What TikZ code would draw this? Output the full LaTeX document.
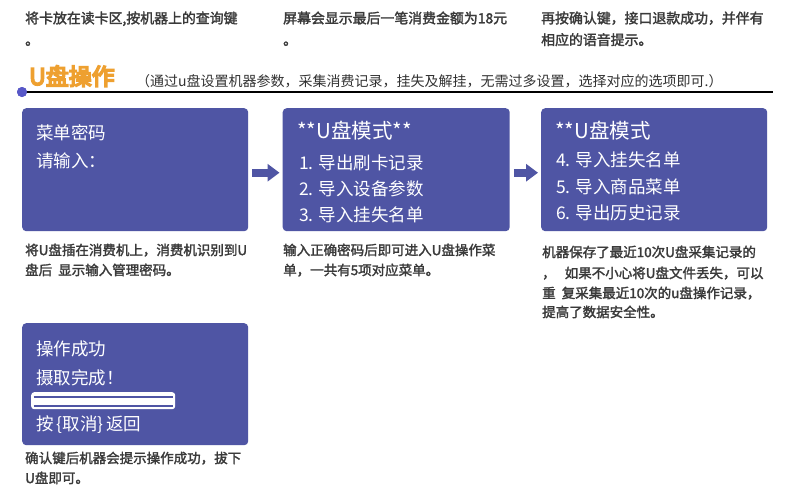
\documentclass[tikz,border=0pt]{standalone}
\usepackage{fontspec}
\setmainfont{Noto Sans CJK SC}
\newfontfamily\capfont{Noto Sans CJK SC}[FakeBold=2]
\newfontfamily\headfont{Noto Sans CJK SC}[FakeBold=7]
\usetikzlibrary{arrows.meta}
\definecolor{boxblue}{RGB}{79,85,164}
\definecolor{dotblue}{RGB}{88,88,200}
\definecolor{headorange}{RGB}{238,160,48}
\definecolor{capgray}{RGB}{58,58,58}
\definecolor{subgray}{RGB}{50,50,50}
\tikzset{
  screen/.style={fill=boxblue, draw=none, rounded corners=4pt, anchor=north west, inner sep=0pt},
  scr/.style={text=white, anchor=base west, inner sep=0pt, font=\fontsize{17.5}{20}\selectfont},
  scrtitle/.style={text=white, anchor=base west, inner sep=0pt, font=\fontsize{20.5}{23}\selectfont},
  captxt/.style={text=capgray, anchor=base west, inner sep=0pt, font=\capfont\fontsize{13.5}{16}\selectfont},
  toptxt/.style={text=capgray, anchor=base west, inner sep=0pt, font=\capfont\fontsize{13.9}{16}\selectfont},
  bigarrow/.style={draw=boxblue, line width=8pt, -{Triangle[length=12pt,width=17pt]}, shorten <=4pt, shorten >=3pt},
}
\begin{document}
\begin{tikzpicture}[x=1pt,y=-1pt]
\useasboundingbox[fill=white] (0,0) rectangle (790,490);

% top texts
\node[toptxt] (t1a) at (25,23.3) {将卡放在读卡区,按机器上的查询键};
\node[toptxt] (t1b) at (25,45) {。};
\node[toptxt] (t2a) at (283,23.3) {屏幕会显示最后一笔消费金额为18元};
\node[toptxt] (t2b) at (283,45) {。};
\node[toptxt] (t3a) at (541,23.3) {再按确认键，接口退款成功，并伴有};
\node[toptxt] (t3b) at (541,45) {相应的语音提示。};

% header
\node[anchor=base west, inner sep=0pt, text=headorange, font=\headfont\fontsize{23}{26}\selectfont] (head) at (29,85) {U盘操作};
\node[anchor=base west, inner sep=0pt, text=subgray, font=\fontsize{14}{16}\selectfont] (sub) at (136,86.3) {（通过u盘设置机器参数，采集消费记录，挂失及解挂，无需过多设置，选择对应的选项即可.）};
\node[circle, fill=dotblue, minimum size=10pt, inner sep=0pt] (dot) at (22,92) {};
\coordinate (lend) at (773,92);
\draw[line width=1.1pt] (dot.center) -- (lend);
\node[circle, fill=dotblue, minimum size=10pt, inner sep=0pt] at (dot.center) {};

% screens
\node[screen, minimum width=226pt, minimum height=123pt] (b1) at (22,108) {};
\node[screen, minimum width=227pt, minimum height=123pt] (b2) at (282.5,108) {};
\node[screen, minimum width=226pt, minimum height=123pt] (b3) at (541,108) {};
\node[screen, minimum width=226pt, minimum height=122pt] (b4) at (22,323) {};

\draw[bigarrow] ([yshift=-3pt]b1.east) -- ([yshift=-3pt]b2.west);
\draw[bigarrow] ([yshift=-3pt]b2.east) -- ([yshift=-3pt]b3.west);

% screen 1
\node[scr] (s1a) at (36,139.2) {菜单密码};
\node[scr] (s1b) at (36,167.2) {请输入：};
% screen 2
\node[scrtitle] (s2t) at (297,138.6) {**U盘模式**};
\node[scr] (s2a) at (299,169.2) {1. 导出刷卡记录};
\node[scr] (s2b) at (299,195.2) {2. 导入设备参数};
\node[scr] (s2c) at (299,221.7) {3. 导入挂失名单};
% screen 3
\node[scrtitle] (s3t) at (555,138.6) {**U盘模式};
\node[scr] (s3a) at (556,166.7) {4. 导入挂失名单};
\node[scr] (s3b) at (556,193.2) {5. 导入商品菜单};
\node[scr] (s3c) at (556,219.2) {6. 导出历史记录};
% screen 4
\node[scr] (s4a) at (36,355.7) {操作成功};
\node[scr] (s4b) at (36,384.2) {摄取完成！};
\node[fill=white, rounded corners=3pt, anchor=north west, inner sep=0pt, minimum width=144pt, minimum height=17pt] (bar) at (31,392) {};
\draw[boxblue, line width=2pt] (33.5,396.5) -- (172.5,396.5);
\draw[boxblue, line width=2pt] (33.5,405.5) -- (172.5,405.5);
\node[scr] (s4c) at (36,430.7) {按\,\{取消\}\,返回};

% captions
\node[captxt] (c1a) at (25,255.1) {将U盘插在消费机上，消费机识别到U};
\node[captxt] (c1b) at (25,275.1) {盘后\ \ 显示输入管理密码。};
\node[captxt] (c2a) at (283,255.1) {输入正确密码后即可进入U盘操作菜};
\node[captxt] (c2b) at (283,275.1) {单，一共有5项对应菜单。};
\node[captxt] (c3a) at (542,257.1) {机器保存了最近10次U盘采集记录的};
\node[captxt] (c3b) at (542,278.1) {，\ \ \ 如果不小心将U盘文件丢失，可以};
\node[captxt] (c3c) at (542,298.1) {重\ \ 复采集最近10次的u盘操作记录，};
\node[captxt] (c3d) at (542,317.1) {提高了数据安全性。};
\node[captxt] (c4a) at (25,463.1) {确认键后机器会提示操作成功，拔下};
\node[captxt] (c4b) at (25,483.1) {U盘即可。};
\end{tikzpicture}
\end{document}
